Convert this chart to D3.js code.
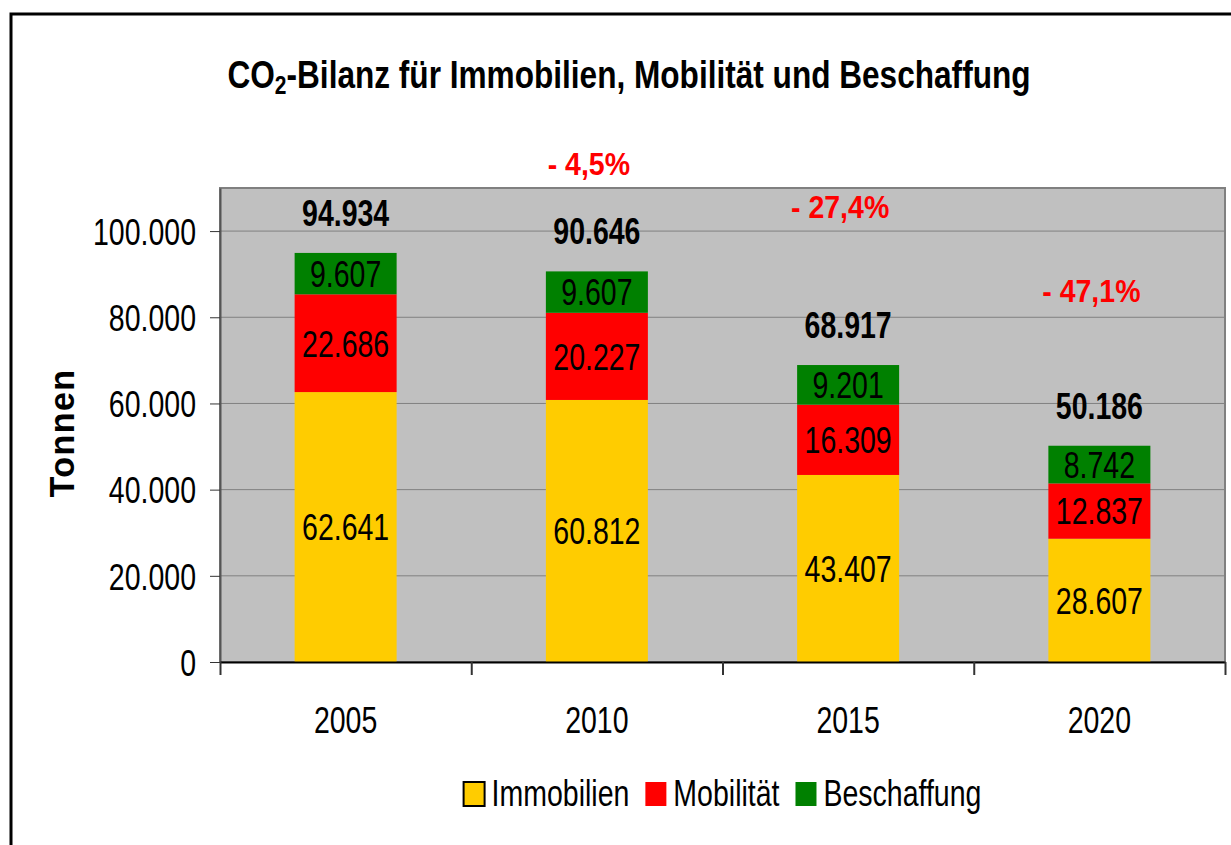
<!DOCTYPE html>
<html>
<head>
<meta charset="utf-8">
<script src="https://cdn.jsdelivr.net/npm/d3@7"></script>
<style>
  body { margin: 0; background: #fff; }
  text { font-family: "Liberation Sans", Arial, sans-serif; }
</style>
</head>
<body>
<svg id="chart" width="1231" height="845"></svg>
<script>
// data
var years = ["2005", "2010", "2015", "2020"];
var immobilien = [62641, 60812, 43407, 28607];
var mobilitaet = [22686, 20227, 16309, 12837];
var beschaffung = [9607, 9607, 9201, 8742];
var seriesNames = ["Immobilien", "Mobilität", "Beschaffung"];
var seriesColors = ["#ffcc00", "#ff0000", "#008000"];
var yTicks = [0, 20000, 40000, 60000, 80000, 100000];
// change vs. 2005, shown as red notes above the bars
var changeLabels = [null, "- 4,5%", "- 27,4%", "- 47,1%"];
var changeLevel = [null, 113000, 103000, 83500]; // height (in t) of the notes

var fmt = d3.formatLocale({decimal: ",", thousands: ".", grouping: [3]}).format(",d");
var stretch = 1.3; // the chart text is drawn a bit taller than wide

var svg = d3.select("#chart");
var margin = {top: 188, right: 6, bottom: 183, left: 220},
    width = 1231 - margin.left - margin.right,
    height = 845 - margin.top - margin.bottom;

// outer frame
svg.append("rect")
    .attr("x", 11).attr("y", 14)
    .attr("width", 1240).attr("height", 860)
    .attr("fill", "none").attr("stroke", "#000").attr("stroke-width", 3);

// title
var title = svg.append("text")
    .attr("transform", "translate(629,88) scale(1,1.24)")
    .attr("text-anchor", "middle")
    .attr("font-size", 31.6).attr("font-weight", "bold");
title.append("tspan").text("CO");
title.append("tspan").attr("font-size", 21).attr("dy", 5).text("2");
title.append("tspan").attr("dy", -5).text("-Bilanz für Immobilien, Mobilität und Beschaffung");

var g = svg.append("g")
    .attr("transform", "translate(" + margin.left + "," + margin.top + ")");

var x = d3.scaleBand()
    .domain(years)
    .range([0, width])
    .paddingInner(0.594)
    .paddingOuter(0.297);
var y = d3.scaleLinear()
    .domain([0, 110000])
    .range([height, 0]);

// plot area
g.append("rect")
    .attr("width", width).attr("height", height)
    .attr("fill", "#c0c0c0")
    .attr("stroke", "#808080").attr("stroke-width", 2);

// grid lines
g.append("g")
    .selectAll("line")
    .data(yTicks.slice(1))
    .join("line")
    .attr("x1", 0).attr("x2", width)
    .attr("y1", d => y(d)).attr("y2", d => y(d))
    .attr("stroke", "#808080").attr("stroke-width", 1);

// stacked bars
var rows = years.map((yr, i) => ({year: yr, Immobilien: immobilien[i], "Mobilität": mobilitaet[i], Beschaffung: beschaffung[i]}));
var stacked = d3.stack().keys(seriesNames)(rows);

stacked.forEach((layer, k) => {
  var lg = g.append("g");
  lg.selectAll("rect")
    .data(layer)
    .join("rect")
    .attr("x", d => x(d.data.year))
    .attr("width", x.bandwidth())
    .attr("y", d => y(d[1]))
    .attr("height", d => y(d[0]) - y(d[1]))
    .attr("fill", seriesColors[k]);
  lg.selectAll("text")
    .data(layer)
    .join("text")
    .attr("transform", d => "translate(" + (x(d.data.year) + x.bandwidth() / 2) + "," + (y((d[0] + d[1]) / 2)) + ") scale(1," + stretch + ")")
    .attr("dy", "0.36em")
    .attr("text-anchor", "middle")
    .attr("font-size", 28.5)
    .text(d => fmt(d[1] - d[0]));
});

// totals above bars
var totals = rows.map((r, i) => immobilien[i] + mobilitaet[i] + beschaffung[i]);
g.append("g").selectAll("text")
    .data(totals)
    .join("text")
    .attr("transform", (d, i) => "translate(" + (x(years[i]) + x.bandwidth() / 2) + "," + (y(d) - 27) + ") scale(1," + stretch + ")")
    .attr("text-anchor", "middle")
    .attr("font-size", 28.5).attr("font-weight", "bold")
    .text(d => fmt(d));

// change notes
g.append("g").selectAll("text")
    .data(years.map((yr, i) => ({year: yr, label: changeLabels[i], level: changeLevel[i]})).filter(d => d.label))
    .join("text")
    .attr("transform", d => "translate(" + (x(d.year) + x.bandwidth() / 2 - 8) + "," + y(d.level) + ") scale(1,1.08)")
    .attr("text-anchor", "middle")
    .attr("font-size", 28.5).attr("font-weight", "bold")
    .attr("fill", "#ff0000")
    .text(d => d.label);

// y axis
var yAxis = g.append("g")
    .call(d3.axisLeft(y).tickValues(yTicks).tickSize(10).tickSizeOuter(0).tickPadding(14).tickFormat(fmt));
yAxis.select(".domain").attr("stroke", "#555").attr("stroke-width", 2);
yAxis.selectAll(".tick line").attr("stroke", "#333");
yAxis.selectAll(".tick text")
    .attr("font-size", 28.5).attr("fill", "#000")
    .attr("font-family", null)
    .attr("dy", "0.36em")
    .attr("transform", "scale(1," + stretch + ")");

// x axis: boundary ticks + labels under each bar
var xEdge = d3.scaleLinear().domain([0, years.length]).range([0, width]);
var xAxis = g.append("g")
    .attr("transform", "translate(0," + height + ")")
    .call(d3.axisBottom(xEdge).ticks(years.length).tickSize(13).tickSizeOuter(0).tickFormat(""));
xAxis.select(".domain").attr("stroke", "#000").attr("stroke-width", 2);
xAxis.selectAll(".tick line").attr("stroke", "#333").attr("stroke-width", 2);

var xLabels = g.append("g")
    .attr("transform", "translate(0," + height + ")")
    .call(d3.axisBottom(x).tickSize(0));
xLabels.select(".domain").remove();
xLabels.selectAll(".tick text")
    .attr("font-size", 28.5).attr("fill", "#000")
    .attr("font-family", null)
    .attr("y", 0).attr("dy", 0)
    .attr("transform", "translate(0,71) scale(1," + stretch + ")");

// axis title
svg.append("text")
    .attr("transform", "translate(74,433) rotate(-90) scale(1,1.04)")
    .attr("text-anchor", "middle")
    .attr("font-size", 34).attr("font-weight", "bold")
    .attr("letter-spacing", 1.5)
    .text("Tonnen");

// legend
var legend = svg.append("g").attr("transform", "translate(0,806)");
var items = legend.selectAll("g")
    .data(seriesNames)
    .join("g");
items.append("rect")
    .attr("y", -24).attr("width", 21).attr("height", 24)
    .attr("fill", (d, i) => seriesColors[i])
    .attr("stroke", (d, i) => i == 0 ? "#000" : "none")
    .attr("stroke-width", 2);
items.append("text")
    .attr("x", 28)
    .attr("font-size", 28.5)
    .attr("transform", "scale(1," + stretch + ")")
    .text(d => d);

// lay legend items out side by side and centre them under the plot
var widths = [];
items.each(function() { widths.push(28 + d3.select(this).select("text").node().getComputedTextLength()); });
var gap = 16;
var total = d3.sum(widths) + gap * (widths.length - 1);
var pos = margin.left + width / 2 - total / 2;
items.attr("transform", (d, i) => {
  var t = "translate(" + pos + ",0)";
  pos += widths[i] + gap;
  return t;
});
</script>
</body>
</html>
